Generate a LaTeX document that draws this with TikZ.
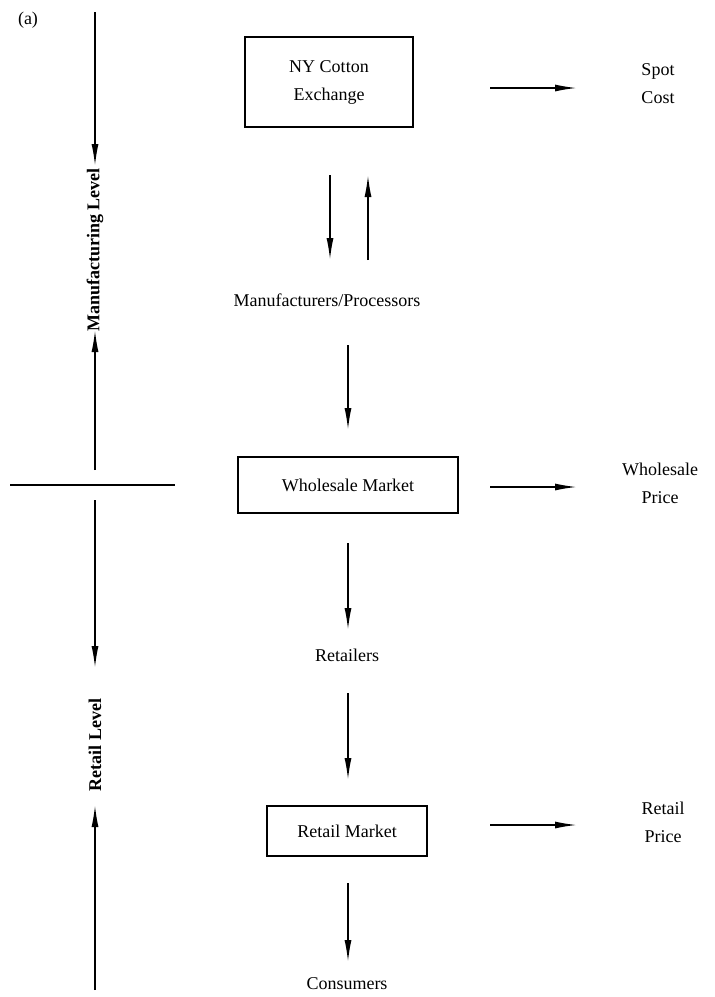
\documentclass[tikz,border=0pt]{standalone}
\usepackage{fontspec}
\setmainfont{Liberation Serif}
\usetikzlibrary{arrows.meta}
\begin{document}
\begin{tikzpicture}[x=0.5pt,y=-0.5pt]

      \tikzset{market/.style={draw, thick, rectangle, inner sep=0pt, font=\fontsize{9}{14}\selectfont, align=center},
               plain/.style={inner sep=0pt, font=\fontsize{9}{14}\selectfont, align=center},
               level/.style={inner sep=0pt, font=\bfseries\fontsize{9}{11}\selectfont, rotate=90},
               flow/.style={thick, -{Latex[length=11pt,width=3.5pt]}}}
      \useasboundingbox (0,0) rectangle (715,997);
%% Vertices
      	\node[plain] (tag) at (28,20) {(a)};
      	\node[market, minimum width=84pt, minimum height=45pt] (nyce) at (329,82) {NY Cotton\\Exchange};
      	\node[plain] (spot) at (658,84) {Spot\\Cost};
      	\node[plain] (manu) at (327,300) {Manufacturers/Processors};
      	\node[market, minimum width=110pt, minimum height=28pt] (whole) at (348,485) {Wholesale Market};
      	\node[plain] (wprice) at (660,483) {Wholesale\\Price};
      	\node[plain] (retailers) at (347,655) {Retailers};
      	\node[market, minimum width=80pt, minimum height=25pt] (retail) at (347,831) {Retail Market};
      	\node[plain] (rprice) at (663,822) {Retail\\Price};
      	\node[plain] (cons) at (347,984) {Consumers};
      	\node[level] (mlevel) at (95,250) {Manufacturing Level};
      	\node[level] (rlevel) at (95,745) {Retail Level};
%% Arrow ends
      	\coordinate (t1) at (95,12);
      	\coordinate (t1e) at (95,166);
      	\coordinate (t2) at (95,470);
      	\coordinate (t2e) at (95,330);
      	\coordinate (t3) at (95,500);
      	\coordinate (t3e) at (95,668);
      	\coordinate (t4) at (95,990);
      	\coordinate (t4e) at (95,805);
      	\coordinate (h1) at (10,485);
      	\coordinate (h2) at (175,485);
      	\coordinate (s1) at (330,175);
      	\coordinate (s2) at (330,260);
      	\coordinate (s3) at (368,260);
      	\coordinate (s4) at (368,175);
      	\coordinate (d1) at (348,345);
      	\coordinate (d1e) at (348,430);
      	\coordinate (d2) at (348,543);
      	\coordinate (d2e) at (348,630);
      	\coordinate (d3) at (348,693);
      	\coordinate (d3e) at (348,780);
      	\coordinate (d4) at (348,883);
      	\coordinate (d4e) at (348,962);
      	\coordinate (r1) at (490,88);
      	\coordinate (r1e) at (577,88);
      	\coordinate (r2) at (490,487);
      	\coordinate (r2e) at (577,487);
      	\coordinate (r3) at (490,825);
      	\coordinate (r3e) at (577,825);

%Edges
		\draw[flow] (t1) -- (t1e);
		\draw[flow] (t2) -- (t2e);
		\draw[thick] (h1) -- (h2);
		\draw[flow] (t3) -- (t3e);
		\draw[flow] (t4) -- (t4e);
		\draw[flow] (s1) -- (s2);
		\draw[flow] (s3) -- (s4);
		\draw[flow] (d1) -- (d1e);
		\draw[flow] (d2) -- (d2e);
		\draw[flow] (d3) -- (d3e);
		\draw[flow] (d4) -- (d4e);
		\draw[flow] (r1) -- (r1e);
		\draw[flow] (r2) -- (r2e);
		\draw[flow] (r3) -- (r3e);
	\end{tikzpicture}
\end{document}
